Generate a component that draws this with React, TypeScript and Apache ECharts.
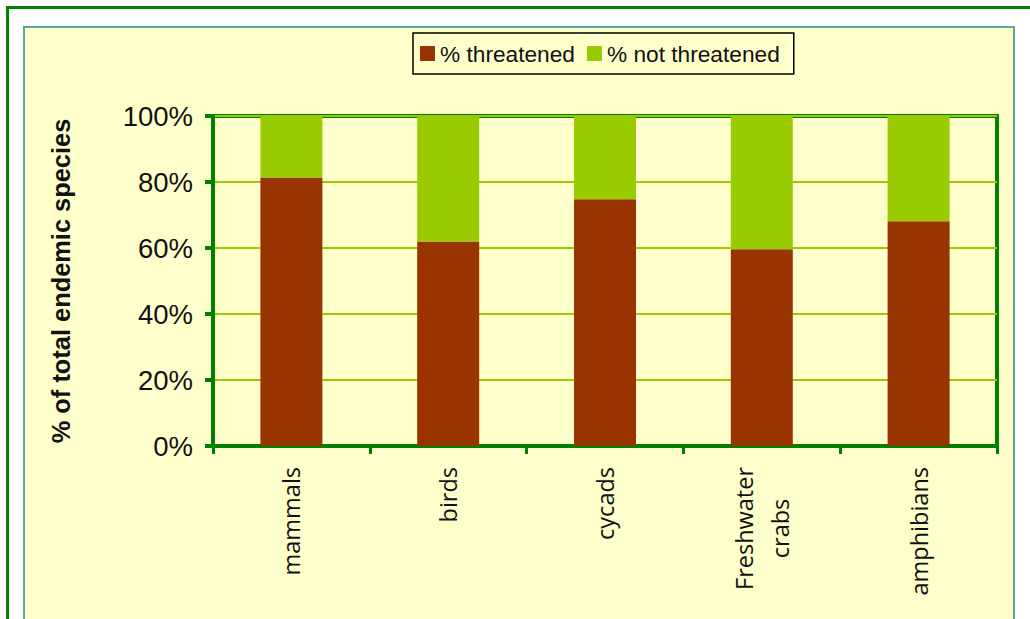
import React, { useEffect, useRef } from "react";
import * as echarts from "echarts";

const categories = ["mammals", "birds", "cycads", "Freshwater\ncrabs", "amphibians"];
const threatened = [81.4, 62.0, 74.8, 59.6, 68.1];
const notThreatened = [18.6, 38.0, 25.2, 40.4, 31.9];
const yTicks = [0, 20, 40, 60, 80, 100];

export default function App() {
  const ref = useRef<HTMLDivElement>(null);
  useEffect(() => {
    if (!ref.current) return;
    const chart = echarts.init(ref.current, null, { renderer: "svg" });
    chart.setOption({
      animation: false,
      backgroundColor: "#ffffff",
      graphic: [
        {
          type: "rect",
          z: -10,
          shape: { x: 7.5, y: 7.5, width: 1100, height: 700 },
          style: { fill: "#ffffff", stroke: "#008000", lineWidth: 3 },
          silent: true,
        },
        {
          type: "rect",
          z: -9,
          shape: { x: 24, y: 27, width: 990, height: 700 },
          style: { fill: "#FFFFCC", stroke: "#5aa7a0", lineWidth: 2 },
          silent: true,
        },
      ],
      legend: {
        left: 413,
        top: 33,
        itemWidth: 15,
        itemHeight: 15,
        itemGap: 12,
        icon: "rect",
        padding: [9, 14, 9, 7],
        borderColor: "#000000",
        borderWidth: 1.5,
        backgroundColor: "#FFFFCC",
        textStyle: { fontFamily: "Liberation Sans, Arial", fontSize: 22.7, color: "#111111" },
        data: ["% threatened", "% not threatened"],
      },
      grid: {
        left: 213,
        top: 116,
        right: 33,
        bottom: 173,
        show: true,
        borderColor: "#008000",
        borderWidth: 4,
        backgroundColor: "transparent",
      },
      xAxis: {
        type: "category",
        data: categories,
        boundaryGap: true,
        axisLine: { lineStyle: { color: "#008000", width: 4 } },
        axisTick: { show: true, length: 8, lineStyle: { color: "#008000", width: 3 } },
        axisLabel: {
          rotate: 90,
          margin: 21,
          interval: 0,
          formatter: (v: string) =>
            v
              .split("\n")
              .map((s) => "{a|" + s + "}")
              .join("\n"),
          rich: {
            a: {
              fontFamily: "Open Sans",
              fontSize: 23.5,
              color: "#111111",
              align: "center",
              lineHeight: 36,
            },
          },
        },
      },
      yAxis: {
        type: "value",
        min: yTicks[0],
        max: yTicks[yTicks.length - 1],
        interval: 20,
        name: "% of total endemic species",
        nameLocation: "middle",
        nameRotate: 90,
        nameGap: 140,
        nameTextStyle: {
          fontFamily: "Liberation Sans, Arial",
          fontSize: 25.4,
          fontWeight: "bold",
          color: "#111111",
        },
        axisLine: { show: true, lineStyle: { color: "#008000", width: 4 } },
        axisTick: { show: true, length: 8, lineStyle: { color: "#008000", width: 4 } },
        axisLabel: {
          margin: 20,
          formatter: "{value}%",
          fontFamily: "Liberation Sans, Arial",
          fontSize: 27.5,
          color: "#111111",
        },
        splitLine: { show: true, lineStyle: { color: "#99CC00", width: 2 } },
      },
      series: [
        {
          name: "% threatened",
          type: "bar",
          stack: "total",
          barWidth: 62,
          data: threatened,
          itemStyle: { color: "#993300" },
        },
        {
          name: "% not threatened",
          type: "bar",
          stack: "total",
          barWidth: 62,
          data: notThreatened,
          itemStyle: { color: "#99CC00" },
        },
      ],
    });
    return () => chart.dispose();
  }, []);
  return (
    <div
      ref={ref}
      style={{ position: "absolute", left: 0, top: 0, width: 1030, height: 619 }}
    />
  );
}
